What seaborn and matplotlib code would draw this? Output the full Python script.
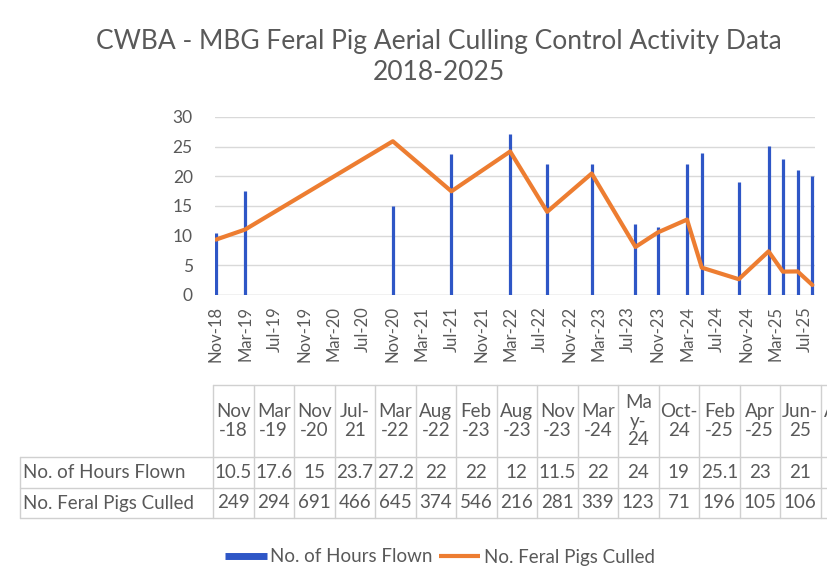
import numpy as np
import pandas as pd
import matplotlib
matplotlib.use("Agg")
import matplotlib.pyplot as plt
import matplotlib.dates as mdates
from matplotlib.lines import Line2D
import seaborn as sns

flight_months = ["2018-11", "2019-03", "2020-11", "2021-07", "2022-03", "2022-08",
                 "2023-02", "2023-08", "2023-11", "2024-03", "2024-05", "2024-10",
                 "2025-02", "2025-04", "2025-06", "2025-08"]
hours_flown = [10.5, 17.6, 15, 23.7, 27.2, 22, 22, 12, 11.5, 22, 24, 19, 25.1, 23, 21, 20]
pigs_culled = [249, 294, 691, 466, 645, 374, 546, 216, 281, 339, 123, 71, 196, 105, 106, 45]
table_headers = ["Nov\n-18", "Mar\n-19", "Nov\n-20", "Jul-\n21", "Mar\n-22", "Aug\n-22",
                 "Feb\n-23", "Aug\n-23", "Nov\n-23", "Mar\n-24", "Ma\ny-\n24", "Oct-\n24",
                 "Feb\n-25", "Apr\n-25", "Jun-\n25", "Aug\n-25"]
hours_labels = ["10.5", "17.6", "15", "23.7", "27.2", "22", "22", "12", "11.5", "22",
                "24", "19", "25.1", "23", "21", "20"]
row_names = ["No. of Hours Flown", "No. Feral Pigs Culled"]
title = "CWBA - MBG Feral Pig Aerial Culling Control Activity Data\n2018-2025"

df = pd.DataFrame({"date": pd.to_datetime(flight_months),
                   "hours": hours_flown, "pigs": pigs_culled})

sns.set_theme(style="white")
plt.rcParams["font.family"] = ["Lato", "DejaVu Sans"]

BLUE = "#2E56C6"
ORANGE = "#ED7D31"
GREY_TXT = "#595959"

W, H = 827, 588
fig = plt.figure(figsize=(W / 100, H / 100), dpi=100)
fig.patch.set_facecolor("white")

def px(x0, y0, x1, y1):
    # pixel box -> figure fraction [left, bottom, width, height]
    return [x0 / W, 1 - y1 / H, (x1 - x0) / W, (y1 - y0) / H]

ax = fig.add_axes(px(215, 117, 815, 295))
ax.vlines(df["date"], 0, df["hours"], color=BLUE, lw=2.3, zorder=3)
ax.set_ylim(0, 30)
ax.set_yticks(range(0, 31, 5))
ax.set_xlim(pd.Timestamp("2018-10-28"), pd.Timestamp("2025-08-12"))
ax.xaxis.set_major_locator(mdates.MonthLocator(bymonth=[3, 7, 11]))
ax.xaxis.set_major_formatter(mdates.DateFormatter("%b-%y"))
ax.grid(axis="y", color="#D9D9D9", lw=1)
ax.set_axisbelow(True)
for s in ax.spines.values():
    s.set_visible(False)
ax.axhline(0, color="#D9D9D9", lw=1, zorder=1)
ax.tick_params(axis="x", labelrotation=90, labelsize=12, colors=GREY_TXT, length=0, pad=8)
ax.tick_params(axis="y", labelsize=12.5, colors=GREY_TXT, length=0, pad=16)
ax.set_xlabel("")
ax.set_ylabel("")

ax2 = ax.twinx()
sns.lineplot(data=df, x="date", y="pigs", ax=ax2, color=ORANGE, lw=3, zorder=4)
ax2.set_ylim(0, 800)
ax2.set_axis_off()

fig.suptitle(title, x=439 / W, y=1 - 29 / H, fontsize=19, color=GREY_TXT,
             va="top", linespacing=1.3)

# data table underneath, in pixel coordinates
tab = fig.add_axes([0, 0, 1, 1])
tab.set_xlim(0, W)
tab.set_ylim(H, 0)
tab.set_axis_off()
tab.patch.set_alpha(0)
c0, cw = 213, 40.5
y_top, y_h, y_r1, y_r2 = 385, 457, 488, 518
line_kw = dict(color="#D0D0D0", lw=1)
fs_tab = 13.5
n = len(table_headers)
x_end = c0 + cw * n
tab.plot([c0, x_end], [y_top, y_top], **line_kw)
for y in (y_h, y_r1, y_r2):
    tab.plot([20, x_end], [y, y], **line_kw)
tab.plot([20, 20], [y_h, y_r2], **line_kw)
for i in range(n + 1):
    xx = c0 + cw * i
    tab.plot([xx, xx], [y_top, y_r2], **line_kw)
for i, (hd, hv, pv) in enumerate(zip(table_headers, hours_labels, pigs_culled)):
    xc = c0 + cw * (i + 0.5)
    tab.text(xc, (y_top + y_h) / 2, hd, ha="center", va="center", fontsize=fs_tab,
             color=GREY_TXT, linespacing=1.1, clip_on=True)
    tab.text(xc, (y_h + y_r1) / 2, hv, ha="center", va="center", fontsize=fs_tab,
             color=GREY_TXT, clip_on=True)
    tab.text(xc, (y_r1 + y_r2) / 2, str(pv), ha="center", va="center", fontsize=fs_tab,
             color=GREY_TXT, clip_on=True)
for name, y0, y1 in zip(row_names, (y_h, y_r1), (y_r1, y_r2)):
    tab.text(23, (y0 + y1) / 2, name, ha="left", va="center", fontsize=fs_tab, color=GREY_TXT)

handles = [Line2D([], [], color=BLUE, lw=5, solid_capstyle="butt"),
           Line2D([], [], color=ORANGE, lw=3, solid_capstyle="butt")]
fig.legend(handles, row_names, loc="center", bbox_to_anchor=(440 / W, 1 - 557 / H),
           ncol=2, frameon=False, fontsize=13.5, labelcolor=GREY_TXT,
           handlelength=2.2, handletextpad=0.2, columnspacing=0.3)

fig.savefig("out.png", dpi=100, facecolor="white")
